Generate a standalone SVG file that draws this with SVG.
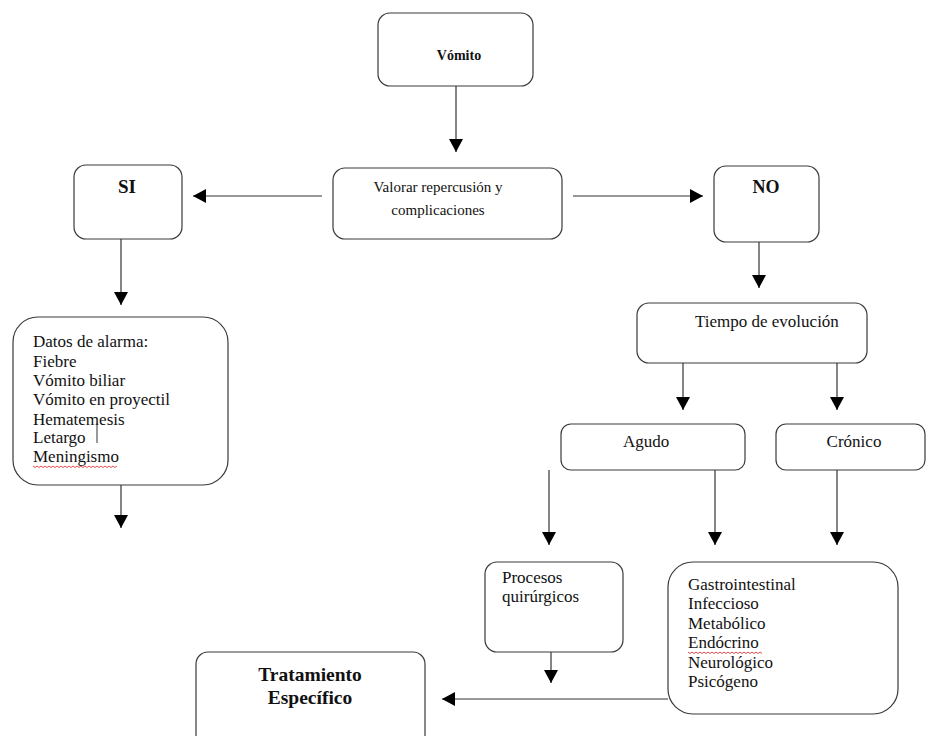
<svg xmlns="http://www.w3.org/2000/svg" width="949" height="736" viewBox="0 0 949 736">
<style>
.box{fill:#fff;stroke:#3a3a3a;stroke-width:1.2}
.t{font-family:"Liberation Serif","Times New Roman",serif;font-size:17px;fill:#111}
.s{font-size:15px}
.b{font-family:"Liberation Serif","Times New Roman",serif;font-weight:bold;fill:#111}
.c{text-anchor:middle}
.ln{stroke:#333;stroke-width:1.2;fill:none}
.sp{stroke:#d22;stroke-width:0.8;fill:none}
</style>
<defs>
<marker id="ah" viewBox="0 0 13 14" refX="13" refY="7" markerWidth="13" markerHeight="14" markerUnits="userSpaceOnUse" orient="auto">
<path d="M0,0 L13,7 L0,14 z" fill="#000"/>
</marker>
</defs>
<rect width="949" height="736" fill="#fff"/>
<g id="connectors">
<line class="ln" x1="456" y1="86" x2="456" y2="152" marker-end="url(#ah)"/>
<line class="ln" x1="322" y1="196" x2="193" y2="196" marker-end="url(#ah)"/>
<line class="ln" x1="573" y1="196" x2="703" y2="196" marker-end="url(#ah)"/>
<line class="ln" x1="121" y1="239" x2="121" y2="305" marker-end="url(#ah)"/>
<line class="ln" x1="121" y1="485" x2="121" y2="528" marker-end="url(#ah)"/>
<line class="ln" x1="759" y1="242" x2="759" y2="288" marker-end="url(#ah)"/>
<line class="ln" x1="683" y1="363" x2="683" y2="410" marker-end="url(#ah)"/>
<line class="ln" x1="837" y1="363" x2="837" y2="410" marker-end="url(#ah)"/>
<line class="ln" x1="549" y1="470" x2="549" y2="545" marker-end="url(#ah)"/>
<line class="ln" x1="715" y1="470" x2="715" y2="545" marker-end="url(#ah)"/>
<line class="ln" x1="837" y1="470" x2="837" y2="545" marker-end="url(#ah)"/>
<line class="ln" x1="551" y1="652" x2="551" y2="683" marker-end="url(#ah)"/>
<line class="ln" x1="668" y1="699" x2="442" y2="699" marker-end="url(#ah)"/>
</g>
<g id="vomito">
<rect class="box" x="378" y="13" width="155" height="73" rx="12"/>
<text class="b c" x="459" y="60" font-size="14">Vómito</text>
</g>
<g id="valorar">
<rect class="box" x="333" y="168" width="229" height="71" rx="12"/>
<text class="t s c" x="438" y="192">Valorar repercusión y</text>
<text class="t s c" x="438" y="215">complicaciones</text>
</g>
<g id="si">
<rect class="box" x="74" y="165" width="108" height="74" rx="12"/>
<text class="b c" x="127" y="193" font-size="19">SI</text>
</g>
<g id="no">
<rect class="box" x="714" y="166" width="105" height="76" rx="12"/>
<text class="b c" x="766" y="193" font-size="18">NO</text>
</g>
<g id="datos">
<rect class="box" x="13" y="317" width="215" height="168" rx="25"/>
<text class="t" x="33" y="347">Datos de alarma:</text>
<text class="t" x="33" y="367">Fiebre</text>
<text class="t" x="33" y="386">Vómito biliar</text>
<text class="t" x="33" y="405">Vómito en proyectil</text>
<text class="t" x="33" y="425">Hematemesis</text>
<text class="t" x="33" y="443">Letargo</text>
<text class="t" x="33" y="462">Meningismo</text>
<line x1="97" y1="423" x2="97" y2="443" stroke="#333" stroke-width="1"/>
<path class="sp" d="M33,466 l2,1.5 l2,-1.5 l2,1.5 l2,-1.5 l2,1.5 l2,-1.5 l2,1.5 l2,-1.5 l2,1.5 l2,-1.5 l2,1.5 l2,-1.5 l2,1.5 l2,-1.5 l2,1.5 l2,-1.5 l2,1.5 l2,-1.5 l2,1.5 l2,-1.5 l2,1.5 l2,-1.5 l2,1.5 l2,-1.5 l2,1.5 l2,-1.5 l2,1.5 l2,-1.5 l2,1.5 l2,-1.5 l2,1.5 l2,-1.5 l2,1.5 l2,-1.5 l2,1.5 l2,-1.5 l2,1.5 l2,-1.5 l2,1.5 l2,-1.5 l2,1.5 l2,-1.5"/>
</g>
<g id="tiempo">
<rect class="box" x="637" y="303" width="230" height="60" rx="12"/>
<text class="t" x="695" y="327">Tiempo de evolución</text>
</g>
<g id="agudo">
<rect class="box" x="561" y="424" width="184" height="46" rx="10"/>
<text class="t" x="623" y="447">Agudo</text>
</g>
<g id="cronico">
<rect class="box" x="776" y="424" width="149" height="46" rx="10"/>
<text class="t c" x="854" y="447">Crónico</text>
</g>
<g id="procesos">
<rect class="box" x="485" y="562" width="138" height="90" rx="12"/>
<text class="t" x="502" y="583">Procesos</text>
<text class="t" x="502" y="602">quirúrgicos</text>
</g>
<g id="causas">
<rect class="box" x="668" y="562" width="230" height="152" rx="25"/>
<text class="t" x="688" y="590">Gastrointestinal</text>
<text class="t" x="688" y="609">Infeccioso</text>
<text class="t" x="688" y="629">Metabólico</text>
<text class="t" x="688" y="648">Endócrino</text>
<text class="t" x="688" y="668">Neurológico</text>
<text class="t" x="688" y="687">Psicógeno</text>
<path class="sp" d="M688,652 l2,1.5 l2,-1.5 l2,1.5 l2,-1.5 l2,1.5 l2,-1.5 l2,1.5 l2,-1.5 l2,1.5 l2,-1.5 l2,1.5 l2,-1.5 l2,1.5 l2,-1.5 l2,1.5 l2,-1.5 l2,1.5 l2,-1.5 l2,1.5 l2,-1.5 l2,1.5 l2,-1.5 l2,1.5 l2,-1.5 l2,1.5 l2,-1.5 l2,1.5 l2,-1.5 l2,1.5 l2,-1.5 l2,1.5 l2,-1.5 l2,1.5 l2,-1.5 l2,1.5 l2,-1.5 l2,1.5"/>
</g>
<g id="tratamiento">
<rect class="box" x="196" y="652" width="229" height="96" rx="12"/>
<text class="b c" x="310" y="681" font-size="19.5">Tratamiento</text>
<text class="b c" x="310" y="704" font-size="19.5">Específico</text>
</g>
</svg>
